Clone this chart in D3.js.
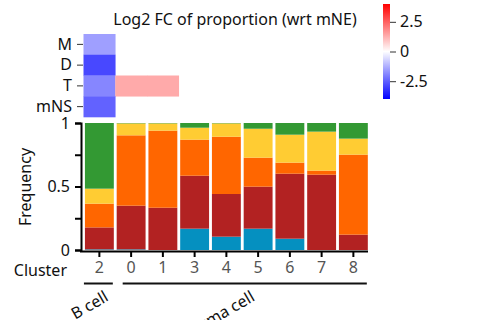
<!DOCTYPE html>
<html>
<head>
<meta charset="utf-8">
<script src="https://cdn.jsdelivr.net/npm/d3@7"></script>
<style>
  body { margin: 0; background: #fff; }
  svg text { font-family: "Noto Sans", sans-serif; }
</style>
</head>
<body>
<script>
// categories
var clusters = ["2", "0", "1", "3", "4", "5", "6", "7", "8"]
var rows = ["M", "D", "T", "mNS"]
var groups = [
  {name: "B cell", from: "2", to: "2"},
  {name: "Plasma cell", from: "0", to: "8"}
]

// stacked frequencies, bottom to top
var blue    = [0.005, 0.005, 0.000, 0.168, 0.105, 0.168, 0.089, 0.000, 0.000]
var darkred = [0.173, 0.344, 0.333, 0.417, 0.336, 0.331, 0.512, 0.593, 0.121]
var orange  = [0.187, 0.554, 0.607, 0.284, 0.451, 0.228, 0.087, 0.032, 0.630]
var yellow  = [0.118, 0.094, 0.057, 0.094, 0.105, 0.228, 0.220, 0.307, 0.126]
var green   = [0.517, 0.003, 0.003, 0.037, 0.003, 0.045, 0.092, 0.068, 0.123]

// log2 fold change heatmap (null = empty)
var fcM   = [-1.50, null, null, null, null, null, null, null, null]
var fcD   = [-2.87, null, null, null, null, null, null, null, null]
var fcT   = [-1.90, 1.33, 1.33, null, null, null, null, null, null]
var fcMNS = [-2.46, null, null, null, null, null, null, null, null]

var yTicks = [0, 0.25, 0.5, 0.75, 1]
var cbTicks = [-2.5, 0, 2.5]

var width = 502
var height = 320

var svg = d3.select("body").append("svg")
  .attr("width", width)
  .attr("height", height)

// scales
var x = d3.scaleBand()
  .domain(clusters)
  .range([83.5, 369.25])
  .paddingInner(0.09)
  .paddingOuter(0.045)

var xh = d3.scaleBand()
  .domain(clusters)
  .range([83.5, 369.25])

var y = d3.scaleLinear()
  .domain([0, 1])
  .range([250, 123])

var yh = d3.scaleBand()
  .domain(rows)
  .range([34, 117])

var color = d3.scaleLinear()
  .domain([-4, 0, 4])
  .range(["#0000ff", "#ffffff", "#ff0000"])

// ---- stacked bars
var keys = ["blue", "darkred", "orange", "yellow", "green"]
var keyColor = {blue: "#0590c0", darkred: "#b22222", orange: "#ff6600", yellow: "#ffcc33", green: "#339933"}
var series = {blue: blue, darkred: darkred, orange: orange, yellow: yellow, green: green}
var tabla = clusters.map(function (c, i) {
  var row = {cluster: c}
  keys.forEach(function (k) { row[k] = series[k][i] })
  return row
})
var stack = d3.stack().keys(keys)(tabla)

svg.append("g")
  .selectAll("g")
  .data(stack)
  .enter()
  .append("g")
  .attr("fill", d => keyColor[d.key])
  .selectAll("rect")
  .data(d => d)
  .enter()
  .append("rect")
  .attr("x", d => x(d.data.cluster))
  .attr("width", x.bandwidth())
  .attr("y", d => y(d[1]))
  .attr("height", d => y(d[0]) - y(d[1]))

// ---- heatmap
var fcRows = {M: fcM, D: fcD, T: fcT, mNS: fcMNS}
var celdas = []
rows.forEach(function (r) {
  fcRows[r].forEach(function (v, i) {
    if (v !== null) celdas.push({row: r, cluster: clusters[i], value: v})
  })
})

svg.append("g")
  .selectAll("rect")
  .data(celdas)
  .enter()
  .append("rect")
  .attr("x", d => xh(d.cluster))
  .attr("width", xh.bandwidth() + 0.3)
  .attr("y", d => yh(d.row))
  .attr("height", yh.bandwidth() + 0.3)
  .attr("fill", d => color(d.value))

var ejeH = svg.append("g")
  .attr("transform", "translate(83,0)")
  .call(d3.axisLeft(yh).tickSize(6).tickPadding(5))
ejeH.select(".domain").remove()
ejeH.selectAll("text").attr("font-size", 16).attr("fill", "#111")
ejeH.selectAll("line").attr("stroke", "#333")

// ---- axes
var ejeY = svg.append("g")
  .attr("transform", "translate(81,0)")
  .call(d3.axisLeft(y).tickValues(yTicks).tickSize(6).tickPadding(5)
    .tickFormat(d => (d === 0 || d === 0.5 || d === 1) ? d3.format("")(d) : ""))
ejeY.selectAll("text").attr("font-size", 16).attr("fill", "#111")
ejeY.select(".domain").attr("stroke-width", 2)
ejeY.selectAll(".tick line").attr("stroke-width", 2)

var ejeX = svg.append("g")
  .attr("transform", "translate(0,251)")
  .call(d3.axisBottom(x).tickSize(6).tickPadding(5).tickSizeOuter(0))
ejeX.select(".domain").attr("d", "M80,0.5H368").attr("stroke-width", 2)
ejeX.selectAll(".tick line").attr("stroke-width", 2)
ejeX.selectAll("text").attr("font-size", 16).attr("fill", "#555")

svg.append("text")
  .attr("x", 67)
  .attr("y", 276)
  .attr("text-anchor", "end")
  .attr("font-size", 16)
  .attr("fill", "#111")
  .text("Cluster")

svg.append("text")
  .attr("transform", "translate(31,187) rotate(-90)")
  .attr("text-anchor", "middle")
  .attr("font-size", 16)
  .attr("fill", "#111")
  .text("Frequency")

// group brackets
groups.forEach(function (g) {
  var x0 = x(g.from) - 1
  var x1 = x(g.to) + x.bandwidth() - 1
  if (g.name !== "B cell") x0 = x0 + 7
  svg.append("line")
    .attr("x1", x0).attr("x2", x1)
    .attr("y1", 283.5).attr("y2", 283.5)
    .attr("stroke", "#111")
    .attr("stroke-width", 2)
  svg.append("text")
    .attr("transform", "translate(" + ((x0 + x1) / 2 + 11) + ",300) rotate(-30)")
    .attr("text-anchor", "end")
    .attr("font-size", 16)
    .attr("fill", "#111")
    .text(g.name)
})

// title
svg.append("text")
  .attr("x", 235)
  .attr("y", 25)
  .attr("text-anchor", "middle")
  .attr("font-size", 16)
  .attr("fill", "#111")
  .text("Log2 FC of proportion (wrt mNE)")

// ---- colorbar
var cb = d3.scaleLinear().domain([-4, 4]).range([99, 4])
var defs = svg.append("defs")
var grad = defs.append("linearGradient")
  .attr("id", "bwr")
  .attr("x1", 0).attr("y1", 1).attr("x2", 0).attr("y2", 0)
grad.selectAll("stop")
  .data([-4, 0, 4])
  .enter()
  .append("stop")
  .attr("offset", d => (d + 4) / 8)
  .attr("stop-color", d => color(d))

svg.append("rect")
  .attr("x", 383)
  .attr("y", cb(4))
  .attr("width", 7)
  .attr("height", cb(-4) - cb(4))
  .attr("fill", "url(#bwr)")

var ejeCb = svg.append("g")
  .attr("transform", "translate(390,0)")
  .call(d3.axisRight(cb).tickValues(cbTicks).tickSize(6).tickPadding(4)
    .tickFormat(d => d === 0 ? "0" : String(d)))
ejeCb.select(".domain").remove()
ejeCb.selectAll("text").attr("font-size", 16).attr("fill", "#111")
ejeCb.selectAll("line").attr("stroke", "#333")
</script>
</body>
</html>
